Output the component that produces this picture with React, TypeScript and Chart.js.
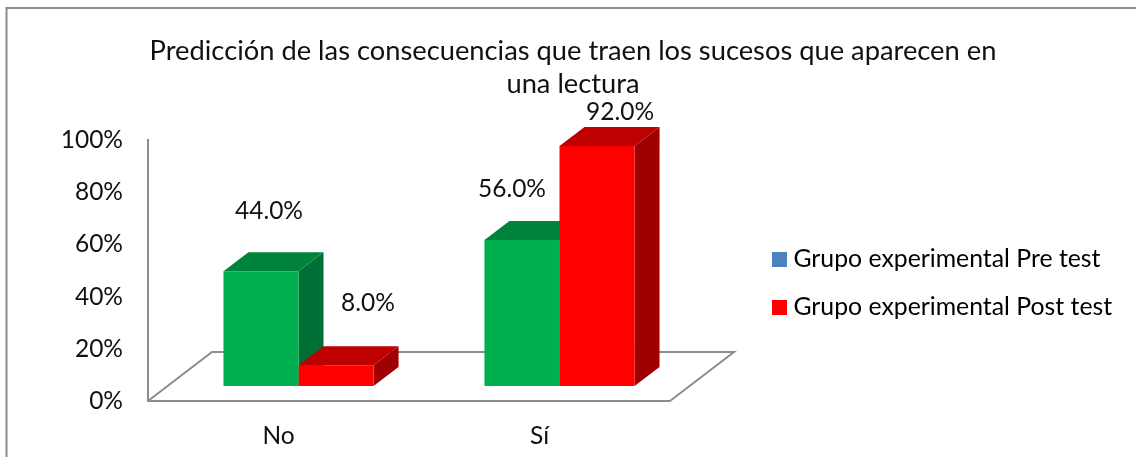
import React, { useEffect, useRef } from "react";
import { Chart, registerables } from "chart.js";

Chart.register(...registerables);

const categories = ["No", "Sí"];
const seriesNames = ["Grupo experimental Pre test", "Grupo experimental Post test"];
const preTest = [44, 56];
const postTest = [8, 92];
const titleLines = [
  "Predicción de las consecuencias que traen los sucesos que aparecen en",
  "una lectura",
];

const FONT = "Lato, Carlito, 'Open Sans', sans-serif";
const TEXT_SIZE = 24.5;
const INK = "#111";
const AXIS = "#8C8C8C";
const GREEN = { front: "#00B050", top: "#00843C", side: "#006F35" };
const RED = { front: "#FF0000", top: "#BD0000", side: "#9F0000" };
const faces = [GREEN, RED];
const legendColors = ["#4F81BD", "#FF0000"];

const FLOOR_DX = 64;
const FLOOR_DY = -49;
const BAR_SHIFT_X = 20;
const BAR_SHIFT_Y = -15;
const BAR_DX = 25;
const BAR_DY = -19;
const labelOffsets = [
  [[8, -60], [-10, -51]],
  [[32, -62], [23, -34]],
];

const poly = (ctx: CanvasRenderingContext2D, pts: number[][], fill: string) => {
  ctx.beginPath();
  pts.forEach(([x, y], i) => (i ? ctx.lineTo(x, y) : ctx.moveTo(x, y)));
  ctx.closePath();
  ctx.fillStyle = fill;
  ctx.fill();
};

const threeD = {
  id: "threeD",
  beforeDraw(chart: any) {
    const { ctx, chartArea: a, legend, titleBlock } = chart;
    ctx.save();
    ctx.strokeStyle = AXIS;
    ctx.lineWidth = 2;
    ctx.beginPath();
    ctx.moveTo(6.5, 457);
    ctx.lineTo(6.5, 8);
    ctx.lineTo(1136, 8);
    ctx.stroke();
    ctx.restore();
    titleBlock.left = 5;
    titleBlock.right = 1141;
    titleBlock.top = 35;
    legend.left = 754.8;
    legend.right = 1130;
    legend.top = 223.9;
    legend.bottom = 450;
    ctx.save();
    ctx.strokeStyle = AXIS;
    ctx.lineWidth = 2;
    ctx.beginPath();
    ctx.moveTo(a.left, a.bottom);
    ctx.lineTo(a.left + FLOOR_DX, a.bottom + FLOOR_DY);
    ctx.lineTo(a.right + FLOOR_DX, a.bottom + FLOOR_DY);
    ctx.lineTo(a.right, a.bottom);
    ctx.stroke();
    ctx.restore();
  },
  beforeDatasetsDraw(chart: any) {
    const { ctx } = chart;
    ctx.save();
    ctx.translate(BAR_SHIFT_X, BAR_SHIFT_Y);
    chart.data.datasets.forEach((_: any, d: number) => {
      chart.getDatasetMeta(d).data.forEach((bar: any) => {
        const l = bar.x - bar.width / 2;
        const r = bar.x + bar.width / 2;
        const t = bar.y;
        const b = bar.base;
        poly(ctx, [[r, t], [r + BAR_DX, t + BAR_DY], [r + BAR_DX, b + BAR_DY], [r, b]], faces[d].side);
        poly(ctx, [[l, t], [l + BAR_DX, t + BAR_DY], [r + BAR_DX, t + BAR_DY], [r, t]], faces[d].top);
      });
    });
  },
  afterDatasetsDraw(chart: any) {
    const { ctx } = chart;
    ctx.restore();
    ctx.save();
    ctx.fillStyle = INK;
    ctx.font = `${TEXT_SIZE}px ${FONT}`;
    ctx.textAlign = "center";
    ctx.textBaseline = "middle";
    chart.data.datasets.forEach((ds: any, d: number) => {
      chart.getDatasetMeta(d).data.forEach((bar: any, i: number) => {
        const [ox, oy] = labelOffsets[d][i];
        ctx.fillText(
          `${ds.data[i].toFixed(1)}%`,
          bar.x + BAR_SHIFT_X + ox,
          bar.y + BAR_SHIFT_Y + oy
        );
      });
    });
    ctx.restore();
  },
};

export default function App() {
  const ref = useRef<HTMLCanvasElement>(null);
  useEffect(() => {
    const chart = new Chart(ref.current as HTMLCanvasElement, {
      type: "bar",
      data: {
        labels: categories,
        datasets: [
          { label: seriesNames[0], data: preTest, backgroundColor: GREEN.front },
          { label: seriesNames[1], data: postTest, backgroundColor: RED.front },
        ],
      },
      plugins: [threeD],
      options: {
        responsive: false,
        animation: false,
        layout: { padding: { left: 0, right: 242.67, top: 74, bottom: 0 } },
        datasets: { bar: { barPercentage: 1, categoryPercentage: 0.575 } },
        scales: {
          x: {
            grid: { display: false, drawTicks: false },
            border: { color: AXIS, width: 2 },
            ticks: { color: INK, font: { family: FONT, size: TEXT_SIZE }, padding: 20 },
            afterFit: (s: any) => { s.height = 56; },
          },
          y: {
            min: 0,
            max: 100,
            grid: { display: false, drawTicks: false },
            border: { color: AXIS, width: 2 },
            ticks: {
              stepSize: 20,
              color: INK,
              padding: 25,
              font: { family: FONT, size: TEXT_SIZE },
              callback: (v: any) => `${v}%`,
            },
            afterFit: (s: any) => { s.width = 148; },
          },
        },
        plugins: {
          tooltip: { enabled: false },
          title: {
            display: true,
            text: titleLines,
            color: INK,
            font: { family: FONT, size: 27.3, weight: "normal", lineHeight: 1.21 },
            padding: 0,
          },
          legend: {
            position: "right",
            align: "start",
            labels: {
              boxWidth: 3,
              boxHeight: 3,
              padding: 23.2,
              color: INK,
              font: { family: FONT, size: 24.8 },
              generateLabels: (c: any) =>
                c.data.datasets.map((ds: any, i: number) => ({
                  text: ds.label,
                  fillStyle: legendColors[i],
                  strokeStyle: legendColors[i],
                  lineWidth: 12,
                  datasetIndex: i,
                })),
            },
          },
        },
      } as any,
    });
    return () => chart.destroy();
  }, []);
  return (
    <canvas
      ref={ref}
      width={1136}
      height={457}
      style={{ position: "absolute", left: 0, top: 0 }}
    />
  );
}
